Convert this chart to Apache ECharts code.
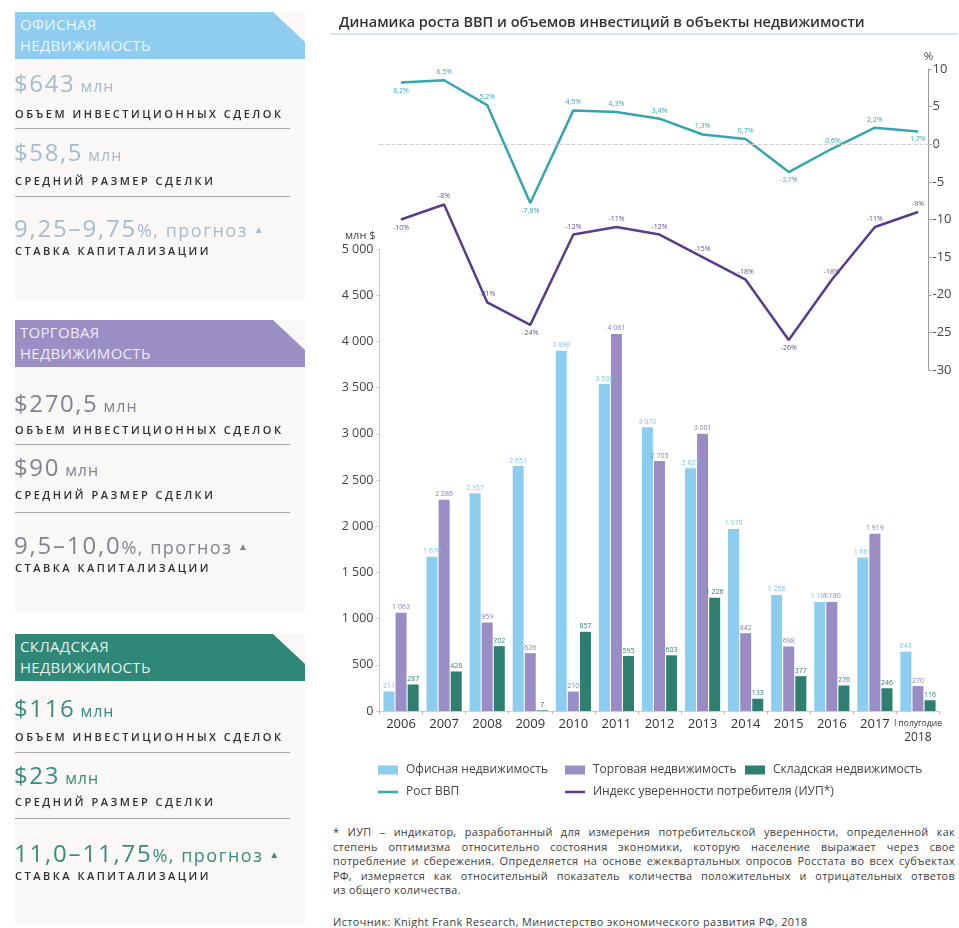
<!DOCTYPE html>
<html><head><meta charset="utf-8">
<script src="https://cdn.jsdelivr.net/npm/echarts@6/dist/echarts.min.js"></script>
<style>
body{margin:0;background:#fff;font-family:'Open Sans',sans-serif;width:959px;height:928px;overflow:hidden;position:relative;}
#chart{position:absolute;left:0;top:0;width:959px;height:812px;}
.abs{position:absolute;white-space:nowrap;}
.panel{position:absolute;left:15px;width:290px;background:#faf7f7;}
.banner{position:absolute;left:15px;width:290px;height:47px;clip-path:polygon(0 0,calc(100% - 32px) 0,100% 30px,100% 100%,0 100%);}
.btxt{position:absolute;left:5px;top:2px;font-size:15px;line-height:21px;letter-spacing:0.3px;}
.lbl{font-size:11px;letter-spacing:2.5px;color:#2f2f2f;font-weight:600;line-height:14px;}
.val{letter-spacing:1.6px;}
.div{position:absolute;left:15px;width:275px;height:0;border-top:1.5px solid #a9a9a9;}
#note{position:absolute;left:333px;top:825px;width:622px;font-size:10.9px;letter-spacing:0.3px;line-height:14.5px;color:#3c3c3c;}
#note span{display:block;white-space:nowrap;text-align:justify;text-align-last:justify;}
#note span.last{text-align-last:left;}
#src{position:absolute;left:333px;top:915px;font-size:10.9px;letter-spacing:0.4px;line-height:14px;color:#3c3c3c;white-space:nowrap;}
</style></head><body>
<div id="chart"></div>
<div id="left"></div>
<div id="note"></div>
<div id="src">Источник: Knight Frank Research, Министерство экономического развития РФ, 2018</div>
<script>
// ---------- data ----------
const categories = ['2006','2007','2008','2009','2010','2011','2012','2013','2014','2015','2016','2017','I полугодие 2018'];
const officeVals = [211, 1670, 2357, 2651, 3898, 3538, 3070, 2627, 1970, 1256, 1180, 1661, 643];
const retailVals = [1063, 2286, 959, 626, 210, 4081, 2705, 3001, 842, 698, 1180, 1919, 270];
const warehouseVals = [287, 428, 702, 7, 857, 595, 603, 1226, 133, 377, 276, 246, 116];
const gdpVals = [8.2, 8.5, 5.2, -7.8, 4.5, 4.3, 3.4, 1.3, 0.7, -3.7, -0.6, 2.2, 1.7];
const cciVals = [-10, -8, -21, -24, -12, -11, -12, -15, -18, -26, -18, -11, -9];
const barAxisTicks = {min: 0, max: 5000, interval: 500};
const pctAxisTicks = {min: -30, max: 10, interval: 5};
const seriesNames = ['Офисная недвижимость','Торговая недвижимость','Складская недвижимость','Рост ВВП','Индекс уверенности потребителя (ИУП*)'];
const chartTitle = 'Динамика роста ВВП и объемов инвестиций в объекты недвижимости';
const noteLines = [
  '* ИУП – индикатор, разработанный для измерения потребительской уверенности, определенной как',
  'степень оптимизма относительно состояния экономики, которую население выражает через свое',
  'потребление и сбережения. Определяется на основе ежеквартальных опросов Росстата во всех субъектах',
  'РФ, измеряется как относительный показатель количества положительных и отрицательных ответов',
  'из общего количества.'
];
document.getElementById('note').innerHTML = noteLines.map((t,i)=>`<span${i===noteLines.length-1?' class="last"':''}>${t}</span>`).join('');

// ---------- left panel ----------
const sections = [
  {top:12, bottom:300, bg:'#8fcdf0', tc:'#e9f6fd', vc:'#a5bccc', title:['ОФИСНАЯ','НЕДВИЖИМОСТЬ'], v1:'643', v2:'58,5', cap:'9,25–9,75', ys:[83,114,128,152,181,196,228,251]},
  {top:320, bottom:612, bg:'#9b8ec4', tc:'#f0ecf8', vc:'#897f92', title:['ТОРГОВАЯ','НЕДВИЖИМОСТЬ'], v1:'270,5', v2:'90', cap:'9,5–10,0', ys:[403,430,444,467,495,512,545,568]},
  {top:634, bottom:925, bg:'#2f8777', tc:'#e3f2ee', vc:'#3a8c7c', title:['СКЛАДСКАЯ','НЕДВИЖИМОСТЬ'], v1:'116', v2:'23', cap:'11,0–11,75', ys:[708,737,752,775,802,818,853,876]}
];
const L = document.getElementById('left');
let h = '';
sections.forEach(s => {
  const y = s.ys;
  h += `<div class="panel" style="top:${s.top}px;height:${s.bottom - s.top}px"></div>`;
  h += `<div class="banner" style="top:${s.top}px;background:${s.bg}"><div class="btxt" style="color:${s.tc}">${s.title[0]}<br>${s.title[1]}</div></div>`;
  h += `<div class="abs val" style="left:14px;top:${y[0]-17}px;line-height:34px;color:${s.vc}"><span style="font-size:24px">$${s.v1}</span><span style="font-size:16px;letter-spacing:1px"> млн</span></div>`;
  h += `<div class="abs lbl" style="left:15px;top:${y[1]-7}px">ОБЪЕМ ИНВЕСТИЦИОННЫХ СДЕЛОК</div>`;
  h += `<div class="div" style="top:${y[2]}px"></div>`;
  h += `<div class="abs val" style="left:14px;top:${y[3]-17}px;line-height:34px;color:${s.vc}"><span style="font-size:24px">$${s.v2}</span><span style="font-size:16px;letter-spacing:1px"> млн</span></div>`;
  h += `<div class="abs lbl" style="left:15px;top:${y[4]-7}px">СРЕДНИЙ РАЗМЕР СДЕЛКИ</div>`;
  h += `<div class="div" style="top:${y[5]}px"></div>`;
  h += `<div class="abs val" style="left:14px;top:${y[6]-17}px;line-height:34px;color:${s.vc}"><span style="font-size:24px;letter-spacing:1.8px">${s.cap}</span><span style="font-size:18px;letter-spacing:1.5px">%, прогноз</span> <span style="font-size:10px;vertical-align:4px">▲</span></div>`;
  h += `<div class="abs lbl" style="left:15px;top:${y[7]-7}px">СТАВКА КАПИТАЛИЗАЦИИ</div>`;
});
L.innerHTML = h;

// ---------- chart ----------
const FONT = "'Open Sans', sans-serif";
const fmtNum = v => String(v).replace(/\B(?=(\d{3})+(?!\d))/g, ' ');
const fmtPct = v => String(v).replace('.', ',') + '%';
function lineData(arr){
  return arr.map((v,i)=>{
    const prev = i>0 ? arr[i-1] : Infinity, next = i<arr.length-1 ? arr[i+1] : Infinity;
    const isMin = v < prev && v < next;
    return {value:v, label:{position: isMin ? 'bottom' : 'top'}};
  });
}
const colors = ['#8dcdf0','#9a8dc5','#2e7f6f','#37a4b3','#5b3c8c'];
const labelColors = ['#7dc2ea','#8a7cba','#2e7f6f','#37a4b3','#6a4c98'];
const barVals = [officeVals, retailVals, warehouseVals];

const chart = echarts.init(document.getElementById('chart'));
const grids = [
  {left: 379.5, width: 560, top: 249, height: 462},
  {left: 379.5, width: 560, top: 69, height: 301}
];
const legendPos = [[378,764],[565,764],[745,764],[378,786],[565,786]];
const option = {
  animation: false,
  textStyle: {fontFamily: FONT},
  title: {text: chartTitle, left: 334, top: 10, textStyle: {fontSize: 14.5, fontWeight: 600, color: '#333', fontFamily: FONT}},
  graphic: [{type: 'line', shape: {x1: 330, y1: 34, x2: 958, y2: 34}, style: {stroke: '#cbdde6', lineWidth: 1.5}}],
  grid: grids,
  legend: seriesNames.map((n,i)=>({
    data: [n], left: legendPos[i][0], top: legendPos[i][1], padding: 0,
    icon: 'rect', itemWidth: 20, itemHeight: i < 3 ? 9 : 2.5, itemGap: 0,
    textStyle: {fontSize: 12, color: '#444', fontFamily: FONT, padding: [0,0,0,3]}
  })),
  xAxis: [
    {type: 'category', gridIndex: 0, data: categories,
     axisLine: {lineStyle: {color: '#d0d0d0'}},
     axisTick: {show: true, length: 3, lineStyle: {color: '#e6a995'}},
     axisLabel: {color: '#333', fontSize: 13, margin: 7, interval: 0,
       formatter: v => { const p = v.split(' '); return p.length > 1 ? `{s|${p.slice(0,-1).join(' ')}}\n{b|${p[p.length-1]}}` : v; },
       rich: {s: {fontSize: 8.5, color: '#333', lineHeight: 12}, b: {fontSize: 12, color: '#333', lineHeight: 15}}}},
    {type: 'category', gridIndex: 1, data: categories, show: false}
  ],
  yAxis: [
    {type: 'value', gridIndex: 0, ...barAxisTicks, name: 'млн $', nameLocation: 'end', nameGap: 8,
     nameTextStyle: {fontSize: 11, color: '#444', align: 'right', padding: [0, 4, 0, 0]},
     axisLine: {show: true, lineStyle: {color: '#c8c8c8'}},
     axisTick: {show: true, length: 3, lineStyle: {color: '#c8c8c8'}},
     splitLine: {show: false},
     axisLabel: {color: '#444', fontSize: 12.5, margin: 6, formatter: v => fmtNum(v)}},
    {type: 'value', gridIndex: 1, position: 'right', offset: -11, ...pctAxisTicks, name: '%', nameLocation: 'end', nameGap: 6,
     nameTextStyle: {fontSize: 11.5, color: '#444'},
     axisLine: {show: true, lineStyle: {color: '#9a9a9a'}},
     axisTick: {show: true, length: 3, lineStyle: {color: '#9a9a9a'}},
     splitLine: {show: false},
     axisLabel: {color: '#444', fontSize: 13, margin: 4}}
  ],
  series: [
    ...barVals.map((arr,i)=>({
      name: seriesNames[i], type: 'bar', xAxisIndex: 0, yAxisIndex: 0, data: arr,
      barWidth: 11, barGap: '10%', itemStyle: {color: colors[i]},
      label: {show: true, position: 'top', distance: 2, fontSize: 7, color: labelColors[i], formatter: p => fmtNum(p.value)}
    })),
    {name: seriesNames[3], type: 'line', xAxisIndex: 1, yAxisIndex: 1, data: lineData(gdpVals),
     symbol: 'circle', symbolSize: 1, itemStyle: {color: colors[3]}, lineStyle: {color: colors[3], width: 2.5},
     label: {show: true, fontSize: 7, color: labelColors[3], distance: 4, formatter: p => fmtPct(p.value)},
     markLine: {silent: true, symbol: ['none','none'], label: {show: false},
       lineStyle: {color: '#cfcfcf', type: 'dashed', width: 1}, data: [{yAxis: 0}]}},
    {name: seriesNames[4], type: 'line', xAxisIndex: 1, yAxisIndex: 1, data: lineData(cciVals),
     symbol: 'circle', symbolSize: 1, itemStyle: {color: colors[4]}, lineStyle: {color: colors[4], width: 2.5},
     label: {show: true, fontSize: 7, color: labelColors[4], distance: 4, formatter: p => fmtPct(p.value)}}
  ]
};
chart.setOption(option);
</script>
</body></html>
